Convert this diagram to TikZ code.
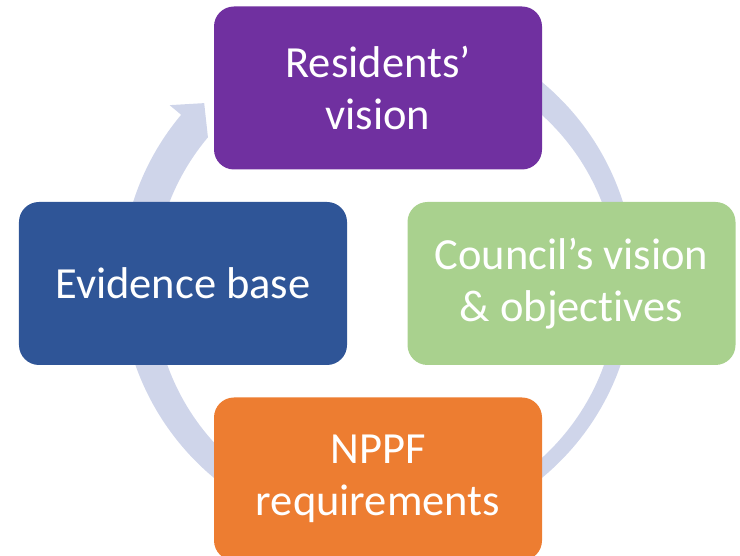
\documentclass[tikz,border=0pt]{standalone}
\usepackage{fontspec}
\setmainfont{Carlito}[Ligatures=NoCommon]
\definecolor{respurple}{HTML}{7030A0}
\definecolor{evblue}{HTML}{2F5597}
\definecolor{cogreen}{HTML}{A9D18E}
\definecolor{nporange}{HTML}{ED7D31}
\definecolor{arrowlav}{HTML}{CFD5EA}
\begin{document}
\begin{tikzpicture}[x=1bp,y=1bp,
  box/.style={rounded corners=20bp, minimum width=328bp, minimum height=163bp,
    text=white, align=center, inner sep=0pt,
    font=\fontsize{44.5bp}{52bp}\selectfont}]
\useasboundingbox (0,0) rectangle (740,556);
\coordinate (c) at (378,276);
\fill[arrowlav] ([shift={(c)}]80:257) arc[start angle=80, end angle=-220, radius=257]
  -- ([shift={(c)}]-220:272) -- ([shift={(c)}]-225.5:248) -- ([shift={(c)}]-220:222)
  arc[start angle=-220, end angle=80, radius=232] -- cycle;
\node[box, fill=respurple] (res) at (378,468) {Residents’\\vision};
\node[box, fill=evblue] (evi) at (183,272.5) {Evidence base};
\node[box, fill=cogreen] (cou) at (571.5,272.5) {Council’s vision\\\& objec\kern0pt{}tives};
\node[box, fill=nporange] (npp) at (378,77) {NPPF\\requirements};
\end{tikzpicture}
\end{document}
